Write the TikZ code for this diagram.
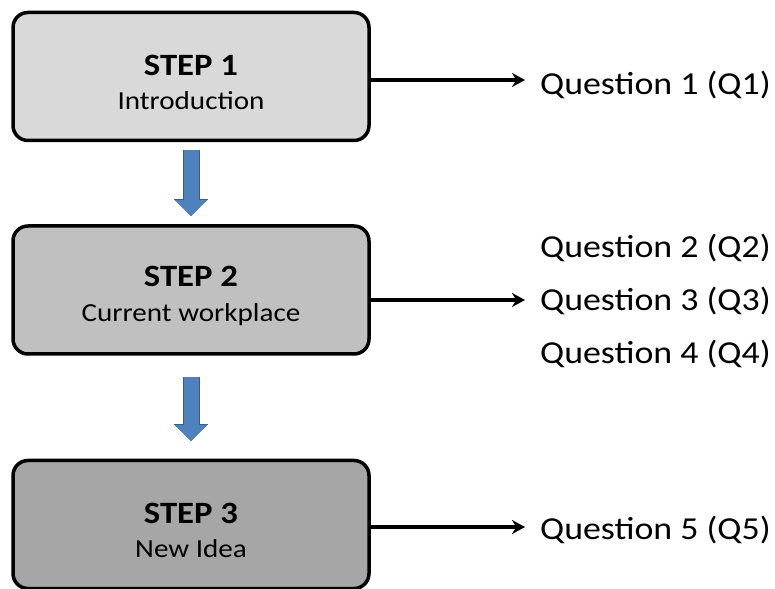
\documentclass[tikz,border=0pt]{standalone}
\usepackage{fontspec}
\setmainfont{Carlito}[FakeStretch=1.12]
\usetikzlibrary{arrows.meta}

\definecolor{fillone}{RGB}{217,217,217}
\definecolor{filltwo}{RGB}{192,192,192}
\definecolor{fillthree}{RGB}{166,166,166}
\definecolor{flowblue}{RGB}{79,129,189}
\definecolor{flowedge}{RGB}{56,93,138}

\tikzset{
  stepbox/.style={draw=black, line width=3.5pt, rounded corners=15pt,
    minimum width=356pt, minimum height=128pt, align=center, inner sep=0pt},
  stepflow/.style={line width=15pt, draw=flowblue,
    -{Triangle[width=30pt,length=16pt]},
    preaction={draw=flowedge, line width=17pt, -{Triangle[width=33pt,length=17pt]}}},
  qflow/.style={line width=3.5pt, -{Stealth[length=13pt,width=14pt]}},
  qtext/.style={anchor=base west, inner sep=0pt, font=\fontsize{32}{38}\selectfont},
}
\newcommand{\steptext}[2]{\rule{0pt}{32pt}{\fontsize{31}{36}\selectfont\bfseries #1}\\[15pt]{\fontsize{26}{31}\selectfont #2}}

\begin{document}
\begin{tikzpicture}[x=1pt,y=1pt]
            \useasboundingbox (0,0) rectangle (775,588);
            \node[stepbox, fill=fillone] (S1) at (191,511.5) {\steptext{STEP 1}{Introduction}};
            \node[stepbox, fill=filltwo] (S2) at (191,298) {\steptext{STEP 2}{Current workplace}};
            \node[stepbox, fill=fillthree] (S3) at (191,63.5) {\steptext{STEP 3}{New Idea}};
            \node[qtext] (Q1) at (540,493) {Question 1 (Q1)};
            \node[qtext] (Q2) at (540,330) {Question 2 (Q2)};
            \node[qtext] (Q3) at (540,277) {Question 3 (Q3)};
            \node[qtext] (Q4) at (540,224) {Question 4 (Q4)};
            \node[qtext] (Q5) at (540,48) {Question 5 (Q5)};
            \coordinate (A1) at (525,508);
            \coordinate (A3) at (525,288);
            \coordinate (A5) at (525,61);
            \draw[stepflow] ([yshift=-7.5pt]S1.south) -- ([yshift=8pt]S2.north);
            \draw[stepflow] ([yshift=-21pt]S2.south) -- ([yshift=17.5pt]S3.north);
            \draw[qflow] (S1.east |- A1) -- (A1);
            \draw[qflow] (S2.east |- A3) -- (A3);
            \draw[qflow] (S3.east |- A5) -- (A5);
        \end{tikzpicture}
\end{document}
